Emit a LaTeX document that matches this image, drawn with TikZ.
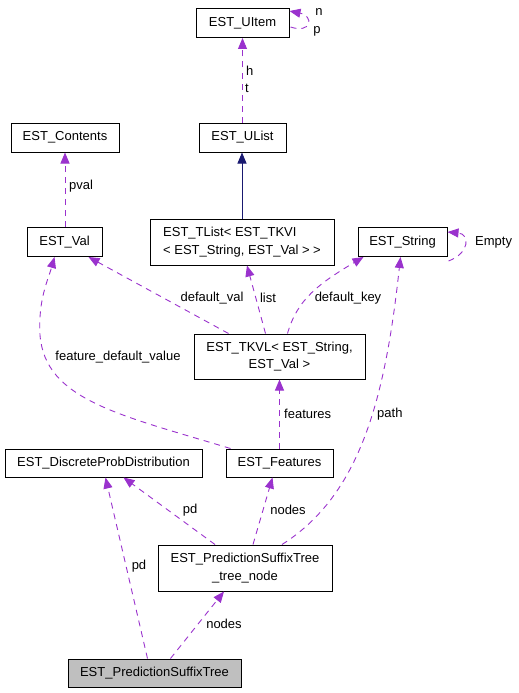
\documentclass[tikz,border=0pt]{standalone}
\usepackage{fontspec}
\setmainfont{Liberation Sans}
\usetikzlibrary{arrows.meta}
\definecolor{dep}{HTML}{9A32CD}
\definecolor{inh}{HTML}{191970}
\definecolor{boxgray}{HTML}{BFBFBF}
\tikzset{
  cls/.style={draw=black, line width=1pt, fill=white, inner sep=0pt, font=\fontsize{13}{17.5}\selectfont},
  usage/.style={draw=dep, line width=0.9pt, dash pattern=on 6pt off 5pt, -{Triangle[length=11pt,width=9pt,fill=dep]}},
  inherit/.style={draw=inh, line width=0.9pt, -{Triangle[length=11pt,width=9pt,fill=inh]}},
  lbl/.style={inner sep=0pt, font=\fontsize{13}{17}\selectfont}
}
\begin{document}
\begin{tikzpicture}[x=1pt,y=-1pt]
\useasboundingbox (0,0) rectangle (519,693);
% classes
\node[cls, minimum width=93pt, minimum height=29pt] (uitem) at (242.5,23) {EST\_UItem};
\node[cls, minimum width=87pt, minimum height=29pt] (ulist) at (242.5,137.5) {EST\_UList};
\node[cls, minimum width=108pt, minimum height=29pt] (contents) at (65,137.5) {EST\_Contents};
\node[cls, minimum width=75pt, minimum height=29pt] (val) at (64.5,242) {EST\_Val};
\node[cls, minimum width=184pt, minimum height=46pt, align=left] (tlist) at (242,242) {EST\_TList< EST\_TKVI\\< EST\_String, EST\_Val > >};
\node[cls, minimum width=89pt, minimum height=29pt] (string) at (402.5,242) {EST\_String};
\node[cls, minimum width=171pt, minimum height=45pt, align=center] (tkvl) at (279.5,356.5) {EST\_TKVL< EST\_String,\\EST\_Val >};
\node[cls, minimum width=197pt, minimum height=28pt] (dpd) at (103.5,463) {EST\_DiscreteProbDistribution};
\node[cls, minimum width=107pt, minimum height=28pt] (features) at (279.5,463) {EST\_Features};
\node[cls, minimum width=174pt, minimum height=46pt, align=center] (tnode) at (245,568) {EST\_PredictionSuffixTree\\\_tree\_node};
\node[cls, fill=boxgray, minimum width=173pt, minimum height=28pt] (pst) at (154.5,673) {EST\_PredictionSuffixTree};
% edges
\draw[usage] ([xshift=1pt,yshift=-4pt]uitem.east) .. controls (312,34) and (314,16) .. ([yshift=-3pt]uitem.north east);
\node[lbl] (ln) at (319,12) {n};
\node[lbl] (lp) at (317,31) {p};
\draw[usage] (ulist.north -| uitem.south) -- (uitem.south);
\node[lbl, anchor=west] (lh) at (246,71) {h};
\node[lbl, anchor=west] (lt) at (245,88) {t};
\draw[inherit] (tlist.north) -- (tlist.north |- ulist.south);
\draw[usage] (val.north -| contents.south) -- (contents.south);
\node[lbl, anchor=west] (lpval) at (69,186) {pval};
\coordinate (tk1) at ([xshift=-51pt]tkvl.north);
\coordinate (tk2) at ([xshift=-14pt]tkvl.north);
\coordinate (tk3) at ([xshift=8pt]tkvl.north);
\draw[usage] (tk1) -- ([xshift=24pt]val.south);
\node[lbl] (ldv) at (212,298) {default\_val};
\draw[usage] (tk2) -- ([xshift=5pt]tlist.south);
\node[lbl] (llist) at (268,298) {list};
\draw[usage] (tk3) .. controls (297,300) and (318,284) .. ([xshift=-39pt]string.south);
\node[lbl] (ldk) at (348,298) {default\_key};
\draw[usage] ([xshift=1pt,yshift=-4pt]string.south east) .. controls (470,253) and (470,234) .. ([yshift=-5pt]string.north east);
\node[lbl, anchor=west] (lempty) at (475,242) {Empty};
\draw[usage] ([xshift=-49pt]features.north) .. controls (120,415) and (45,400) .. (40,335) .. controls (38,300) and (48,280) .. ([xshift=-10pt]val.south);
\node[lbl] (lfdv) at (118,357) {feature\_default\_value};
\draw[usage] (features.north) -- (tkvl.south);
\node[lbl, anchor=west] (lfeat) at (284,414) {features};
\draw[usage] ([xshift=37pt]tnode.north) .. controls (360,495) and (385,400) .. ([xshift=-2pt]string.south);
\node[lbl, anchor=west] (lpath) at (377,414) {path};
\draw[usage] ([xshift=-30pt]tnode.north) -- ([xshift=20pt]dpd.south);
\node[lbl] (lpd1) at (190,510) {pd};
\draw[usage] ([xshift=8pt]tnode.north) -- ([xshift=-7pt]features.south);
\node[lbl] (lnodes1) at (288,510) {nodes};
\draw[usage] ([xshift=-7pt]pst.north) -- ([xshift=2pt]dpd.south);
\node[lbl] (lpd2) at (139,566) {pd};
\draw[usage] ([xshift=16pt]pst.north) -- ([xshift=-21pt]tnode.south);
\node[lbl] (lnodes2) at (224,624) {nodes};
\end{tikzpicture}
\end{document}
